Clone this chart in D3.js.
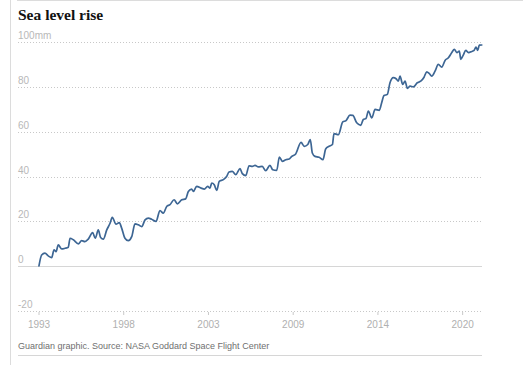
<!DOCTYPE html>
<html>
<head>
<meta charset="utf-8">
<script src="https://cdn.jsdelivr.net/npm/d3@7"></script>
<style>
  html, body { margin: 0; padding: 0; background: #fff; }
  svg { display: block; }
</style>
</head>
<body>
<svg id="chart" width="523" height="365"></svg>
<script>
// ---- data ----
const years = [
  1993.03, 1993.20, 1993.41, 1993.62, 1993.84, 1993.99, 1994.12, 1994.26, 1994.48, 1994.69,
  1994.90, 1995.01, 1995.22, 1995.54, 1995.75, 1995.96, 1996.17, 1996.45, 1996.62, 1996.81,
  1996.96, 1997.13, 1997.35, 1997.56, 1997.70, 1997.94, 1998.15, 1998.30, 1998.51, 1998.72,
  1998.94, 1999.15, 1999.36, 1999.58, 1999.79, 2000.00, 2000.21, 2000.49, 2000.74, 2000.95,
  2001.17, 2001.38, 2001.64, 2001.85, 2002.13, 2002.38, 2002.55, 2002.76, 2002.87, 2003.08,
  2003.36, 2003.57, 2003.78, 2003.93, 2004.04, 2004.20, 2004.36, 2004.52, 2004.78, 2004.99,
  2005.14, 2005.35, 2005.57, 2005.84, 2005.99, 2006.21, 2006.42, 2006.63, 2006.80, 2007.01,
  2007.26, 2007.48, 2007.75, 2007.93, 2008.18, 2008.35, 2008.54, 2008.76, 2008.97, 2009.14,
  2009.39, 2009.73, 2009.94, 2010.16, 2010.32, 2010.45, 2010.62, 2010.88, 2011.13, 2011.30,
  2011.52, 2011.73, 2011.83, 2012.11, 2012.39, 2012.60, 2012.85, 2013.03, 2013.28, 2013.54,
  2013.70, 2013.87, 2014.02, 2014.24, 2014.45, 2014.72, 2014.87, 2015.02, 2015.23, 2015.40,
  2015.61, 2015.79, 2015.93, 2016.04, 2016.21, 2016.36, 2016.51, 2016.68, 2016.89, 2017.14,
  2017.36, 2017.57, 2017.74, 2017.91, 2018.06, 2018.27, 2018.48, 2018.70, 2018.91, 2019.12,
  2019.34, 2019.50, 2019.66, 2019.82, 2019.91, 2020.07, 2020.23, 2020.40, 2020.61, 2020.76,
  2020.88, 2020.99, 2021.09, 2021.25
];
const seaLevel = [
  0.0, 4.9, 5.7, 4.5, 3.7, 7.2, 6.4, 9.4, 7.6, 7.9,
  8.4, 12.4, 11.7, 9.9, 11.3, 10.9, 12.0, 14.9, 12.4, 16.1,
  12.7, 12.0, 16.1, 19.1, 21.7, 18.7, 19.4, 16.9, 12.4, 11.3,
  13.1, 18.8, 18.4, 17.6, 20.6, 21.4, 20.9, 19.9, 24.8, 23.6,
  26.6, 27.4, 29.6, 27.8, 29.6, 30.0, 33.3, 34.4, 33.3, 35.6,
  34.8, 34.4, 35.6, 34.8, 37.1, 36.3, 33.8, 37.8, 38.6, 40.0,
  42.0, 42.3, 40.8, 43.5, 41.3, 40.4, 44.8, 44.5, 45.0, 44.3,
  44.5, 42.6, 45.0, 43.0, 42.7, 48.7, 46.8, 47.5, 47.8, 49.0,
  50.1, 55.3, 53.5, 54.3, 56.5, 50.5, 49.0, 48.6, 47.5, 52.3,
  53.5, 54.3, 59.2, 58.7, 64.4, 65.0, 67.4, 67.3, 64.0, 62.9,
  65.5, 65.9, 69.2, 66.2, 70.0, 69.6, 73.0, 76.2, 76.7, 81.9,
  84.2, 83.7, 82.6, 84.9, 81.2, 82.6, 79.4, 80.4, 80.1, 81.9,
  82.6, 84.4, 86.8, 86.0, 84.9, 87.1, 90.1, 88.9, 91.9, 93.1,
  95.4, 96.9, 95.4, 96.1, 92.4, 94.3, 96.4, 95.4, 95.9, 96.4,
  97.9, 96.4, 98.7, 98.8
];
const xTickValues = [1993, 1998.4, 2003.8, 2009.2, 2014.6, 2020.0];
const xTickLabels = ["1993", "1998", "2003", "2009", "2014", "2020"];
const yTickValues = [-20, 0, 20, 40, 60, 80, 100];
const yTickLabels = ["-20", "0", "20", "40", "60", "80", "100mm"];
const title = "Sea level rise";
const source = "Guardian graphic. Source: NASA Goddard Space Flight Center";

// ---- layout ----
const svg = d3.select("#chart");
const gridLeft = 18, gridRight = 482;
const x = d3.scaleLinear().domain([1993, 2021.2]).range([38.5, 481]);
const y = d3.scaleLinear().domain([-20, 100]).range([310.7, 42.3]);
const sans = "'Liberation Sans', Arial, sans-serif";

// frame lines
svg.append("line").attr("x1", 10.5).attr("x2", 10.5).attr("y1", 0).attr("y2", 365)
  .attr("stroke", "#dcdcdc").attr("stroke-width", 1);
svg.append("line").attr("x1", 17).attr("x2", 523).attr("y1", 0.5).attr("y2", 0.5)
  .attr("stroke", "#dcdcdc").attr("stroke-width", 1);

// title
svg.append("text").attr("x", 18).attr("y", 19.5)
  .attr("font-family", "'Liberation Serif', 'Times New Roman', serif")
  .attr("font-weight", "bold").attr("font-size", 15.5).attr("fill", "#121212")
  .text(title);

// y grid + labels
const yg = svg.append("g");
yTickValues.forEach((v, i) => {
  const yy = Math.round(y(v)) + 0.5;
  yg.append("line").attr("x1", gridLeft).attr("x2", gridRight)
    .attr("y1", yy).attr("y2", yy)
    .attr("stroke", v === 0 ? "#d6d6d6" : "#c8c8c8")
    .attr("stroke-width", 1)
    .attr("stroke-dasharray", v === 0 ? null : "1,2");
  yg.append("text").attr("x", gridLeft).attr("y", yy - 4)
    .attr("font-family", sans).attr("font-size", 10).attr("fill", "#b8b8b8")
    .text(yTickLabels[i]);
});

// x axis
const xAxis = d3.axisBottom(x).tickValues(xTickValues)
  .tickFormat((d, i) => xTickLabels[i]).tickSize(3).tickPadding(6);
const xg = svg.append("g").attr("transform", `translate(0,${Math.round(y(-20)) + 1})`).call(xAxis);
xg.select(".domain").remove();
xg.selectAll(".tick line").attr("stroke", "#c8c8c8");
xg.selectAll(".tick text").attr("font-family", sans).attr("font-size", 10).attr("fill", "#b0b0b0");

// line
const pts = years.map((t, i) => [t, seaLevel[i]]);
const line = d3.line().x(d => x(d[0])).y(d => y(d[1])).curve(d3.curveMonotoneX);
svg.append("path").datum(pts).attr("d", line)
  .attr("fill", "none").attr("stroke", "#3d6694").attr("stroke-width", 1.7)
  .attr("stroke-linejoin", "round").attr("stroke-linecap", "round");

// footer
svg.append("text").attr("x", 18).attr("y", 349)
  .attr("font-family", sans).attr("font-size", 9).attr("fill", "#6f6f6f")
  .text(source);
svg.append("line").attr("x1", gridLeft).attr("x2", gridRight).attr("y1", 355.5).attr("y2", 355.5)
  .attr("stroke", "#d6d6d6").attr("stroke-width", 1);
</script>
</body>
</html>
